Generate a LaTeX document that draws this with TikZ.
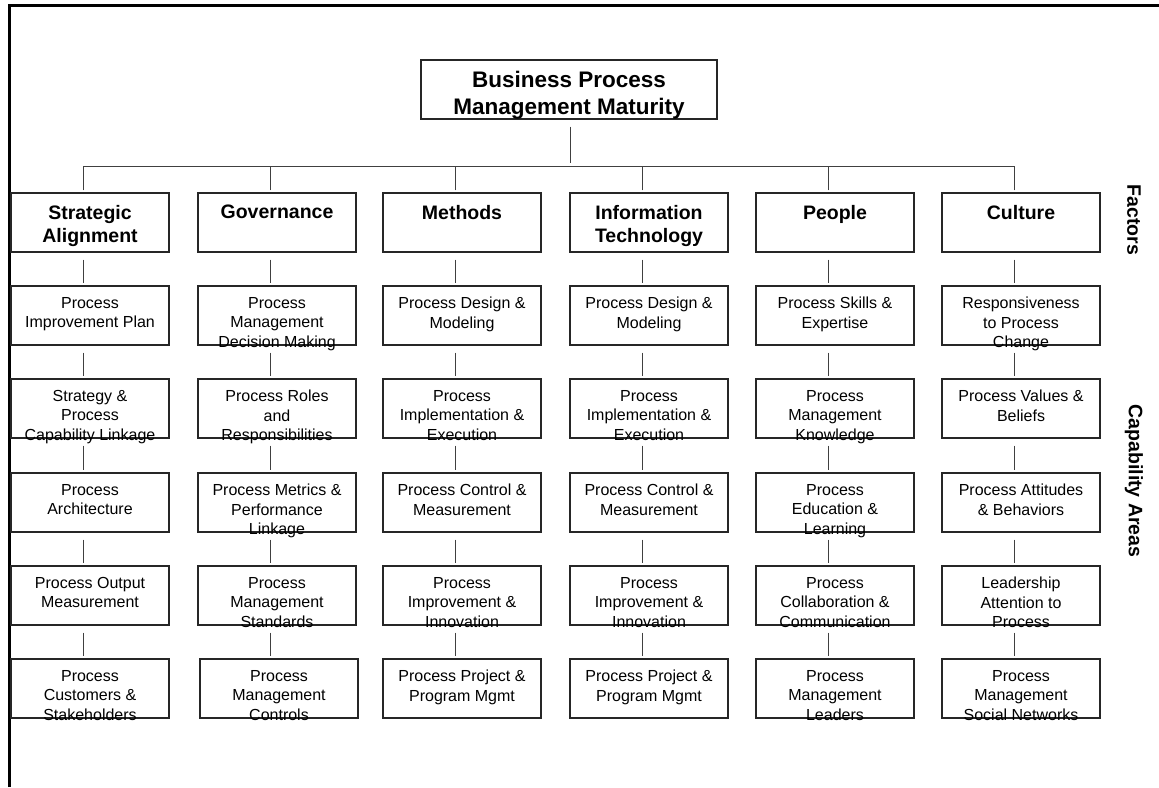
\documentclass[tikz,border=0pt]{standalone}
\usepackage{fontspec}
\setmainfont{Liberation Sans}
\usetikzlibrary{calc}
\tikzset{
  boxshape/.style={draw=black!85, line width=1.1pt, minimum width=158pt, minimum height=59pt, inner sep=0pt},
  captext/.style={anchor=north, align=center, inner sep=0pt, font=\fontsize{16}{19.5}\selectfont},
  factext/.style={anchor=north, align=center, inner sep=0pt, font=\bfseries\fontsize{19.5}{23}\selectfont},
  roottext/.style={anchor=north, align=center, inner sep=0pt, font=\bfseries\fontsize{22.5}{27}\selectfont},
  conn/.style={draw=black!75, line width=1pt},
  sidelabel/.style={rotate=-90, inner sep=0pt, font=\bfseries\fontsize{19.5}{23}\selectfont},
  frameline/.style={line width=3pt, draw=black}
}
\newcommand{\cbox}[4]{%
  \node[boxshape] (#1) at (#2+79,#3+29.5) {};
  \node[captext] (#1t) at ($(#1.north)+(0,11.5)$) {#4};
}
\newcommand{\facbox}[3]{%
  \node[boxshape] (#1) at (#2+79,193+29.5) {};
  \node[factext] (#1t) at ($(#1.north)+(0,12.5)$) {#3};
  \path ($(#1.north)+(-7,-2)$) coordinate (#1d) (bus) coordinate (#1b);
  \draw[conn] (#1d) -- (#1d |- #1b);
}
\newcommand{\vlink}[2]{%
  \path ($(#1.south)+(-7,7)$) coordinate (#1s) ($(#2.north)+(0,-2.5)$) coordinate (#2e);
  \draw[conn] (#1s) -- (#1s |- #2e);
}
\begin{document}
\begin{tikzpicture}[x=1pt,y=-1pt]
\useasboundingbox (0,0) rectangle (1159,787);
\draw[frameline] (9.5,787) -- (9.5,5) -- (1159,5);

% root
\node[boxshape, minimum width=296pt] (root) at (569,89.5) {};
\node[roottext] (roott) at ($(root.north)+(0,12)$) {Business Process\\Management Maturity};

% bus
\coordinate (bus) at (569,166);
\coordinate (busL) at (83,166);
\coordinate (busR) at (1014,166);
\path ($(root.south)+(1,7)$) coordinate (rootdrop);
\draw[conn] (rootdrop) -- ($(rootdrop |- bus)+(0,-3)$);
\draw[conn] (busL) -- (busR);

% factors
\facbox{f1}{11}{Strategic\\Alignment}
\facbox{f2}{198}{Governance}
\facbox{f3}{383}{Methods}
\facbox{f4}{570}{Information\\Technology}
\facbox{f5}{756}{People}
\facbox{f6}{942}{Culture}

% column 1
\cbox{a1}{11}{286}{Process\\Improvement Plan}
\cbox{a2}{11}{379}{Strategy \&\\Process\\Capability Linkage}
\cbox{a3}{11}{473}{Process\\Architecture}
\cbox{a4}{11}{566}{Process Output\\Measurement}
\cbox{a5}{11}{659}{Process\\Customers \&\\Stakeholders}
% column 2
\cbox{b1}{198}{286}{Process\\Management\\Decision Making}
\cbox{b2}{198}{379}{Process Roles\\and\\Responsibilities}
\cbox{b3}{198}{473}{Process Metrics \&\\Performance\\Linkage}
\cbox{b4}{198}{566}{Process\\Management\\Standards}
\cbox{b5}{200}{659}{Process\\Management\\Controls}
% column 3
\cbox{c1}{383}{286}{Process Design \&\\Modeling}
\cbox{c2}{383}{379}{Process\\Implementation \&\\Execution}
\cbox{c3}{383}{473}{Process Control \&\\Measurement}
\cbox{c4}{383}{566}{Process\\Improvement \&\\Innovation}
\cbox{c5}{383}{659}{Process Project \&\\Program Mgmt}
% column 4
\cbox{d1}{570}{286}{Process Design \&\\Modeling}
\cbox{d2}{570}{379}{Process\\Implementation \&\\Execution}
\cbox{d3}{570}{473}{Process Control \&\\Measurement}
\cbox{d4}{570}{566}{Process\\Improvement \&\\Innovation}
\cbox{d5}{570}{659}{Process Project \&\\Program Mgmt}
% column 5
\cbox{e1}{756}{286}{Process Skills \&\\Expertise}
\cbox{e2}{756}{379}{Process\\Management\\Knowledge}
\cbox{e3}{756}{473}{Process\\Education \&\\Learning}
\cbox{e4}{756}{566}{Process\\Collaboration \&\\Communication}
\cbox{e5}{756}{659}{Process\\Management\\Leaders}
% column 6
\cbox{g1}{942}{286}{Responsiveness\\to Process\\Change}
\cbox{g2}{942}{379}{Process Values \&\\Beliefs}
\cbox{g3}{942}{473}{Process Attitudes\\\& Behaviors}
\cbox{g4}{942}{566}{Leadership\\Attention to\\Process}
\cbox{g5}{942}{659}{Process\\Management\\Social Networks}

% links
\vlink{f1}{a1}\vlink{a1}{a2}\vlink{a2}{a3}\vlink{a3}{a4}\vlink{a4}{a5}
\vlink{f2}{b1}\vlink{b1}{b2}\vlink{b2}{b3}\vlink{b3}{b4}\vlink{b4}{b5}
\vlink{f3}{c1}\vlink{c1}{c2}\vlink{c2}{c3}\vlink{c3}{c4}\vlink{c4}{c5}
\vlink{f4}{d1}\vlink{d1}{d2}\vlink{d2}{d3}\vlink{d3}{d4}\vlink{d4}{d5}
\vlink{f5}{e1}\vlink{e1}{e2}\vlink{e2}{e3}\vlink{e3}{e4}\vlink{e4}{e5}
\vlink{f6}{g1}\vlink{g1}{g2}\vlink{g2}{g3}\vlink{g3}{g4}\vlink{g4}{g5}

% side labels
\node[sidelabel] (lf) at (1134,220) {Factors};
\node[sidelabel] (lc) at (1134,481) {Capability Areas};
\end{tikzpicture}
\end{document}
